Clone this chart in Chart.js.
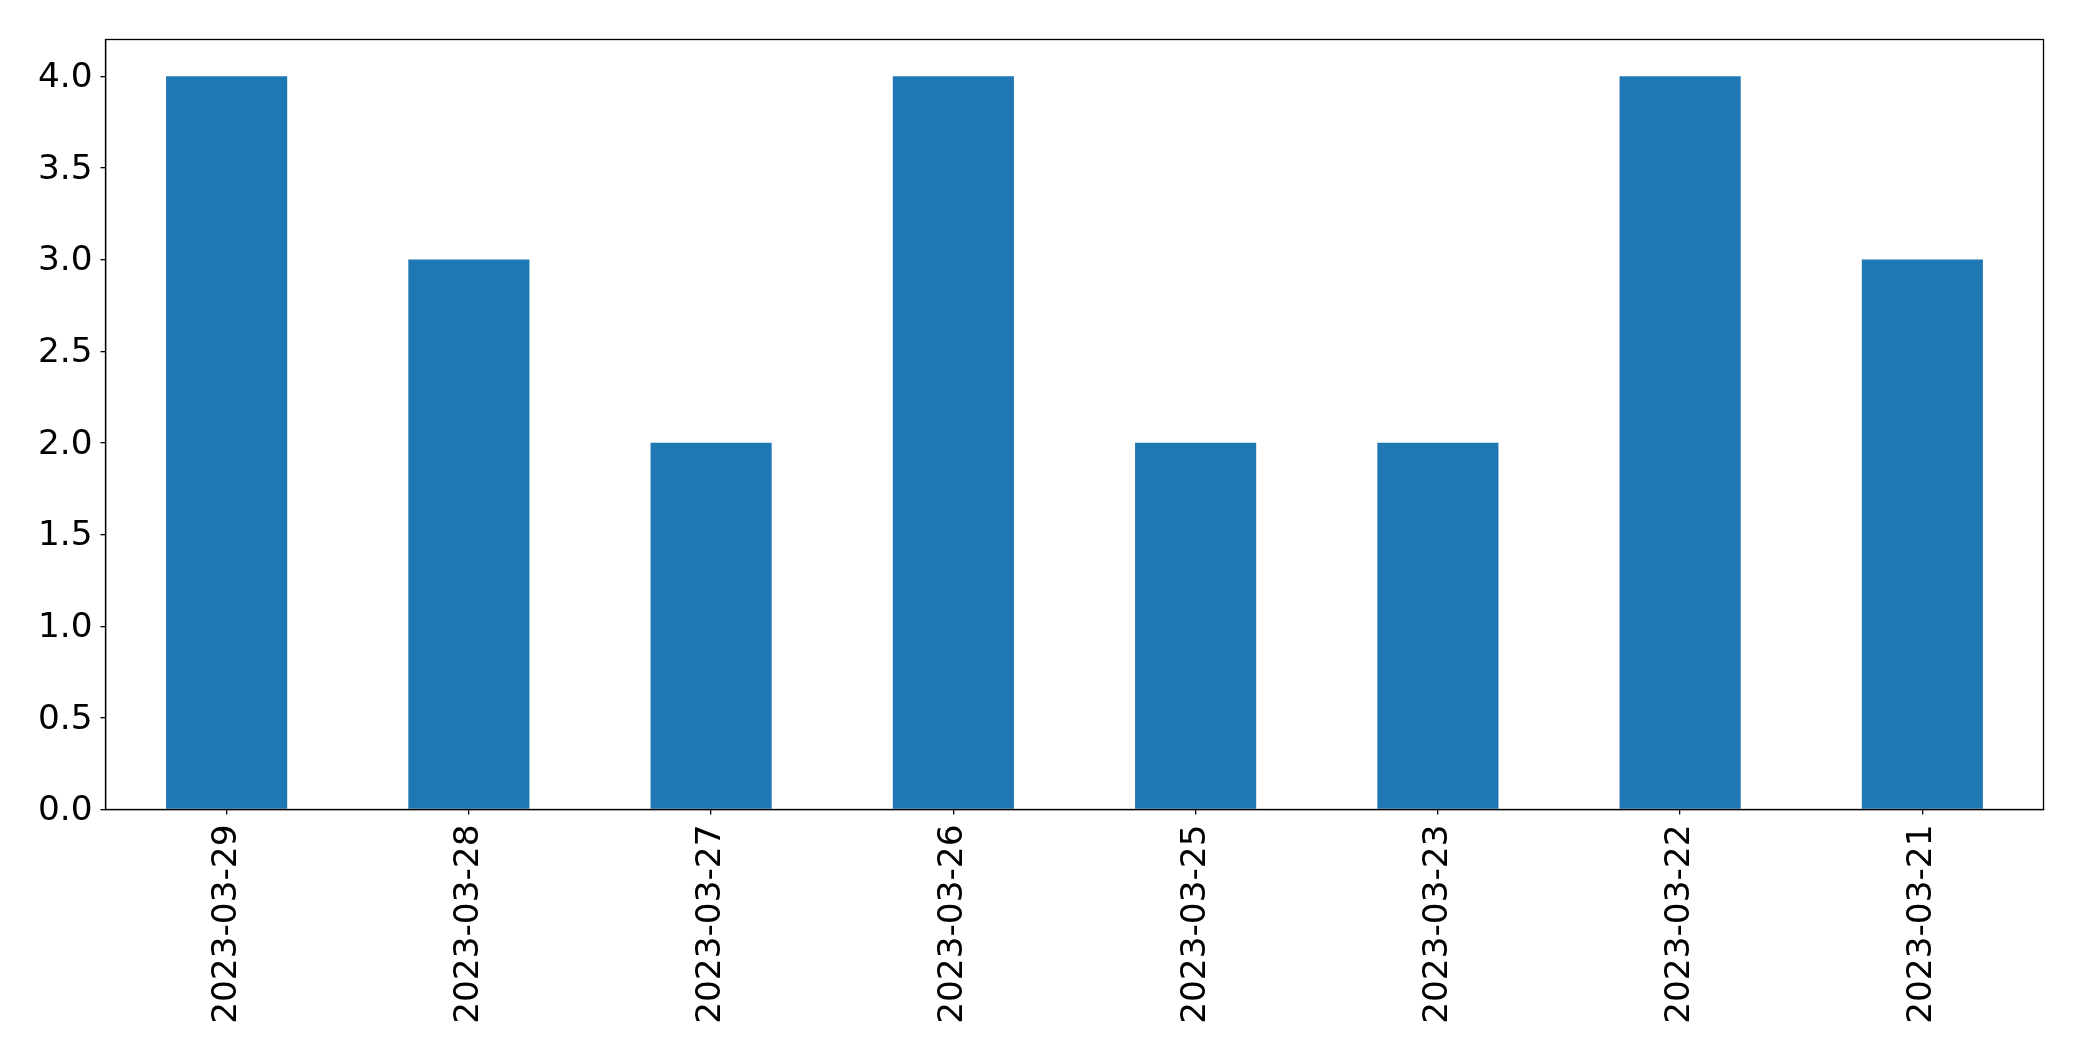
<!DOCTYPE html>
<html>
<head>
<meta charset="utf-8">
<script src="https://cdn.jsdelivr.net/npm/chart.js@4/dist/chart.umd.min.js"></script>
<style>
html,body{margin:0;padding:0;background:#fff;}
#wrap{width:2082px;height:1061px;position:relative;}
</style>
</head>
<body>
<div id="wrap"><canvas id="c" width="2082" height="1061"></canvas></div>
<script>
const categories = ["2023-03-29","2023-03-28","2023-03-27","2023-03-26","2023-03-25","2023-03-23","2023-03-22","2023-03-21"];
const values = [4,3,2,4,2,2,4,3];
const yTickStep = 0.5;
const yMin = 0;
const yMax = 4.2;

const frame = {
  id:'frame',
  afterDraw(chart){
    const a = chart.chartArea, ctx = chart.ctx;
    ctx.save();
    ctx.strokeStyle = '#000';
    ctx.lineWidth = 1.3;
    ctx.strokeRect(a.left, a.top, a.right - a.left, a.bottom - a.top);
    ctx.restore();
  }
};

const font = {family:'"DejaVu Sans"', size:34.3};

new Chart(document.getElementById('c'), {
  type:'bar',
  data:{labels:categories, datasets:[{data:values, backgroundColor:'#1f77b4', borderWidth:0, categoryPercentage:1, barPercentage:0.5}]},
  options:{
    responsive:false, animation:false, devicePixelRatio:1,
    layout:{padding:{left:0, top:39.5, right:38.5, bottom:0}},
    plugins:{legend:{display:false}, tooltip:{enabled:false}},
    scales:{
      x:{
        offset:true,
        grid:{display:true, drawOnChartArea:false, drawTicks:true, tickLength:5, color:'#000', offset:false, lineWidth:1.3},
        border:{display:true, color:'#000', width:1.3},
        ticks:{font:font, color:'#000', maxRotation:90, minRotation:90, padding:10, autoSkip:false},
        afterFit(s){ s.height = 1061 - 809.5; }
      },
      y:{
        min:yMin, max:yMax,
        grid:{display:true, drawOnChartArea:false, drawTicks:true, tickLength:5, color:'#000', lineWidth:1.3},
        border:{display:true, color:'#000', width:1.3},
        ticks:{font:font, color:'#000', stepSize:yTickStep, includeBounds:false, padding:8, labelOffset:2, callback:v=>Number(v).toFixed(1)},
        afterFit(s){ s.width = 105.5; }
      }
    }
  },
  plugins:[frame]
});
</script>
</body>
</html>
